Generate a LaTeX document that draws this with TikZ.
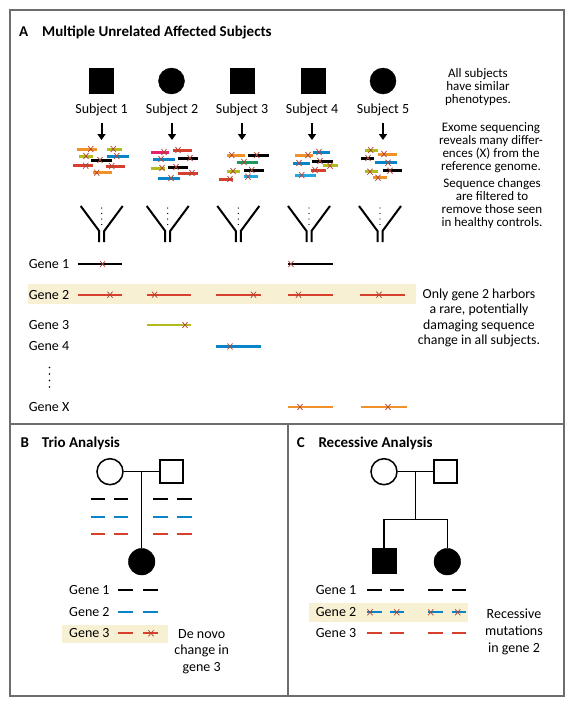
\documentclass[tikz,border=0pt]{standalone}
\usepackage{fontspec}
\setmainfont{Carlito}
\usetikzlibrary{arrows.meta}
\definecolor{nblue}{HTML}{0A84C8}
\definecolor{ncyan}{HTML}{22A7E0}
\definecolor{nred}{HTML}{D6402C}
\definecolor{norange}{HTML}{F0912A}
\definecolor{nyg}{HTML}{B4BB1E}
\definecolor{ngreen}{HTML}{1B9A5E}
\definecolor{npink}{HTML}{E5206E}
\definecolor{xred}{HTML}{B04536}
\definecolor{beige}{HTML}{F8F0D2}
\definecolor{framegray}{HTML}{6D6D6D}
\newcommand\seqbar[5]{\draw[seq,#1] (#2,#4) -- (#3,#4); \pic at (#5,#4) {xmk};}
\newcommand\genebar[5]{\draw[gline,#1] (#2,#4) -- (#3,#4); \pic at (#5,#4) {xmk};}
\newcommand\funnel[1]{%
  \draw[fun] (#1-21,206) -- (#1-2.5,231) -- (#1-2.5,242);
  \draw[fun] (#1+21,206) -- (#1+2.5,231) -- (#1+2.5,242);
  \foreach \dy in {208,213.5,219,224.5} \fill (#1,\dy) circle (0.7);}
\begin{document}
\begin{tikzpicture}[x=1pt,y=-1pt,
  frame/.style={draw=framegray,line width=1.2pt},
  ttl/.style={font=\fontsize{15}{15}\selectfont\bfseries,inner sep=0pt,anchor=base west},
  lbl/.style={font=\fontsize{14}{14}\selectfont,inner sep=0pt},
  rtxt/.style={font=\fontsize{13}{13}\selectfont,inner sep=0pt,align=center,anchor=north},
  sqf/.style={draw=black,fill=black,minimum width=24pt,minimum height=25pt,inner sep=0pt},
  cirf/.style={circle,draw=black,fill=black,minimum size=26pt,inner sep=0pt},
  sqo/.style={draw=black,fill=white,line width=1.5pt,minimum size=23pt,inner sep=0pt},
  ciro/.style={circle,draw=black,fill=white,line width=1.5pt,minimum size=26pt,inner sep=0pt},
  ped/.style={draw=black,line width=1.5pt},
  arr/.style={draw=black,line width=2pt,-{Triangle[width=8pt,length=6pt]}},
  fun/.style={draw=black,line width=2pt},
  seq/.style={line width=3pt},
  gline/.style={line width=2.2pt},
  dsh/.style={line width=2.2pt},
  xmk/.pic={\draw[xred,line width=0.7pt] (-2.6,-3)--(2.6,3) (-2.6,3)--(2.6,-3);}
]
\useasboundingbox (0,0) rectangle (574,707);
\fill[white] (0,0) rectangle (574,707);
% frames
\draw[frame] (10,10) rectangle (564,424);
\draw[frame] (10,424) rectangle (288,696);
\draw[frame] (288,424) rectangle (564,696);

% ---------- Panel A ----------
\node[ttl] (tA) at (19,36) {A};
\node[ttl] (tAt) at (42,36) {Multiple Unrelated Affected Subjects};

\node[sqf] (s1) at (101.5,80.5) {};
\node[cirf] (s2) at (171.5,81) {};
\node[sqf] (s3) at (242,80.5) {};
\node[sqf] (s4) at (313,80.5) {};
\node[cirf] (s5) at (383,81) {};
\foreach \i/\x in {1/101.5,2/172,3/242,4/312,5/383}{
  \node[lbl] (l\i) at (\x,110) {Subject \i};
  \coordinate (a\i) at (\x,123);
  \coordinate (b\i) at (\x,140);
  \draw[arr] (a\i) -- (b\i);
}
\node[rtxt] (r1) at (478,68) {All subjects\\have similar\\phenotypes.};
\node[rtxt,font=\fontsize{13}{13.2}\selectfont] (r2) at (491,122) {Exome sequencing\\reveals many differ-\\ences (X) from the\\reference genome.};
\node[rtxt] (r3) at (492,178) {Sequence changes\\are filtered to\\remove those seen\\in healthy controls.};

% clusters
\seqbar{norange}{77.3}{96.7}{149}{90.7}
\seqbar{nyg}{107.3}{121.7}{149}{113.3}
\seqbar{nyg}{79}{93.3}{156}{86}
\seqbar{nblue}{107.3}{129.3}{156}{116.7}
\seqbar{black}{91}{111.7}{160}{100}
\seqbar{nred}{73.3}{92.7}{165.7}{85.7}
\seqbar{nred}{106}{125}{166}{111.7}
\seqbar{norange}{92.7}{111.7}{172.7}{96.7}

\seqbar{npink}{151}{169}{152}{164}
\seqbar{nred}{173}{192}{150}{178}
\seqbar{nblue}{153}{175}{159}{161}
\seqbar{black}{178}{198}{158}{190}
\seqbar{nyg}{151}{165}{168}{162}
\seqbar{black}{168}{188}{167}{176}
\seqbar{nred}{178}{198}{173}{192}
\seqbar{nblue}{158}{180}{178}{171}

\seqbar{norange}{226.7}{245}{155}{231.7}
\seqbar{black}{248}{269}{155}{256.7}
\seqbar{ngreen}{236.7}{258}{162}{244}
\seqbar{nyg}{226.7}{240}{171}{233}
\seqbar{black}{244}{264}{170}{251.7}
\seqbar{nred}{219}{233}{179}{230}
\seqbar{ncyan}{244}{257.7}{176.7}{248}

\seqbar{norange}{295}{313}{155}{308}
\seqbar{nblue}{313}{330}{152}{319}
\seqbar{nblue}{293}{310}{163}{299}
\seqbar{black}{312}{333}{161}{320}
\seqbar{nyg}{323}{338}{165.7}{330}
\seqbar{nred}{310.7}{326}{170}{315}
\seqbar{ncyan}{295}{315.7}{175}{301.7}

\seqbar{nyg}{365}{378}{150}{370.7}
\seqbar{norange}{378}{396.7}{154}{384}
\seqbar{black}{361}{374}{158}{368}
\seqbar{nblue}{375}{396.7}{162.7}{388}
\seqbar{nyg}{365}{378}{171.7}{370}
\seqbar{black}{382.7}{401.7}{170.7}{390}
\seqbar{norange}{373}{386.7}{177.7}{378}

% funnels
\funnel{101.7}
\funnel{167.7}
\funnel{238.3}
\funnel{309}
\funnel{380}

% gene rows
\fill[beige] (27.5,283.7) rectangle (415.8,304.2);
\node[lbl,anchor=west] (g1) at (28.6,264) {Gene 1};
\node[lbl,anchor=west] (g2) at (28.6,294.7) {Gene 2};
\node[lbl,anchor=west] (g3) at (28.6,325) {Gene 3};
\node[lbl,anchor=west] (g4) at (28.6,346.5) {Gene 4};
\node[lbl,anchor=west] (gX) at (28.6,407) {Gene X};
\foreach \dy in {367.5,374,380.5,387} \fill (49.5,\dy) circle (0.8);

\genebar{black}{77.7}{121.6}{264}{102.6}
\genebar{black}{288}{333}{264}{291}
\genebar{nred}{77.7}{121.6}{294.7}{110}
\genebar{nred}{146.5}{191}{294.7}{154.6}
\genebar{nred}{216}{261}{294.7}{253.5}
\genebar{nred}{288}{333}{294.7}{298.5}
\genebar{nred}{360}{404.8}{294.7}{379}
\genebar{nyg}{146.5}{191}{325}{185}
\genebar{nblue}{216}{261}{346.5}{230}
\genebar{norange}{288}{333}{407}{300}
\genebar{norange}{360.8}{406.6}{407}{388}

\node[rtxt,font=\fontsize{13.8}{15.5}\selectfont] (r4) at (479,288.5) {Only gene 2 harbors\\a rare, potentially\\damaging sequence\\change in all subjects.};

% ---------- Panel B ----------
\node[ttl] (tB) at (20.5,447) {B};
\node[ttl] (tBt) at (41.7,447) {Trio Analysis};
\node[ciro] (mB) at (110,471.7) {};
\node[sqo] (fB) at (171.7,471.7) {};
\coordinate (jB) at (141.7,471.7);
\node[cirf,minimum size=26.6pt] (cB) at (141.7,561.7) {};
\draw[ped] (mB) -- (fB);
\draw[ped] (jB) -- (cB);
\foreach \c/\yy in {black/499,nblue/516.7,nred/534}{
  \foreach \xa/\xb in {90.7/105,114.3/128.3,153.3/167.7,176.7/191.7}
    \draw[dsh,\c] (\xa,\yy) -- (\xb,\yy);
}
\fill[beige] (62.3,625) rectangle (168.3,643.3);
\node[lbl,anchor=west] (bg1) at (69,590) {Gene 1};
\node[lbl,anchor=west] (bg2) at (69,611.7) {Gene 2};
\node[lbl,anchor=west] (bg3) at (69,633.3) {Gene 3};
\foreach \c/\yy in {black/590,nblue/611.7,nred/633.3}{
  \draw[dsh,\c] (118.3,\yy) -- (133.3,\yy);
  \draw[dsh,\c] (143.3,\yy) -- (157.7,\yy);
}
\pic at (151,633.3) {xmk};
\node[rtxt,font=\fontsize{14}{16.8}\selectfont] (nB) at (201.7,629) {De novo\\change in\\gene 3};

% ---------- Panel C ----------
\node[ttl] (tC) at (296.7,447) {C};
\node[ttl] (tCt) at (318.3,447) {Recessive Analysis};
\node[ciro] (mC) at (384,471.7) {};
\node[sqo] (fC) at (445.7,471.7) {};
\coordinate (jC) at (415.7,471.7);
\coordinate (kC) at (415.7,519.3);
\coordinate (kL) at (384,519.3);
\coordinate (kR) at (447.3,519.3);
\node[sqf,minimum width=23.5pt,minimum height=24.4pt] (c1C) at (384,560.5) {};
\node[cirf,minimum size=26.6pt] (c2C) at (447.3,561.7) {};
\draw[ped] (mC) -- (fC);
\draw[ped] (jC) -- (kC);
\draw[ped] (kL) -- (kR);
\draw[ped] (kL) -- (c1C);
\draw[ped] (kR) -- (c2C);
\fill[beige] (309,602.7) rectangle (468.3,621.7);
\node[lbl,anchor=west] (cg1) at (315.7,590) {Gene 1};
\node[lbl,anchor=west] (cg2) at (315.7,612.3) {Gene 2};
\node[lbl,anchor=west] (cg3) at (315.7,633.3) {Gene 3};
\foreach \c/\yy in {black/590,nblue/612.3,nred/633.3}{
  \foreach \xa/\xb in {366.7/381.7,390/404,428.3/442.7,451.7/466}
    \draw[dsh,\c] (\xa,\yy) -- (\xb,\yy);
}
\foreach \xx in {370,396.7,430.7,457.7} \pic at (\xx,612.3) {xmk};
\node[rtxt,font=\fontsize{14}{16.8}\selectfont] (nC) at (514,609) {Recessive\\mutations\\in gene 2};
\end{tikzpicture}
\end{document}
